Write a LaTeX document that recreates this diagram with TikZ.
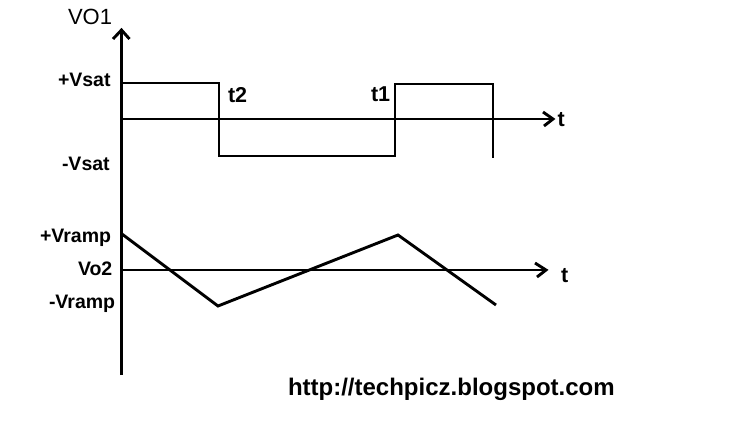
\documentclass[tikz,border=0pt]{standalone}
\usepackage{fontspec}
\setmainfont{Liberation Sans}
\tikzset{
  wire/.style={line width=2.9pt,black,line join=miter,line cap=butt},
  head/.style={line width=2.9pt,black,line join=miter},
  lab/.style={font=\fontsize{19.5pt}{20pt}\selectfont\bfseries,anchor=base west,inner sep=0pt,outer sep=0pt},
  biglab/.style={font=\fontsize{21.5pt}{22pt}\selectfont\bfseries,anchor=base west,inner sep=0pt,outer sep=0pt},
  title/.style={font=\fontsize{22pt}{22pt}\selectfont,anchor=base west,inner sep=0pt,outer sep=0pt},
  link/.style={font=\fontsize{24pt}{24pt}\selectfont\bfseries,anchor=base west,inner sep=0pt,outer sep=0pt}
}
\begin{document}
\begin{tikzpicture}[x=1pt,y=-1pt]
\useasboundingbox (0,0) rectangle (738,423);
% vertical axis
\coordinate (yb) at (121.5,375);
\coordinate (yt) at (121.5,30);
\coordinate (yl) at (113,39);
\coordinate (yr) at (129.5,39);
\draw[wire] (yb) -- (yt);
\draw[head] (yl) -- (yt) -- (yr);
% upper time axis
\coordinate (a0) at (121.5,119);
\coordinate (a1) at (553,119);
\coordinate (a1u) at (543,112);
\coordinate (a1d) at (544,126);
\draw[wire] (a0) -- (a1);
\draw[head] (a1u) -- (a1) -- (a1d);
% lower time axis
\coordinate (b0) at (121.5,270);
\coordinate (b1) at (546,270);
\coordinate (b1u) at (535,263);
\coordinate (b1d) at (537,277);
\draw[wire] (b0) -- (b1);
\draw[head] (b1u) -- (b1) -- (b1d);
% square wave
\coordinate (s0) at (122,83);
\coordinate (s1) at (219,83);
\coordinate (s2) at (219,156);
\coordinate (s3) at (395,156);
\coordinate (s4) at (395,84);
\coordinate (s5) at (493,84);
\coordinate (s6) at (493,158);
\draw[wire] (s0) -- (s1) -- (s2) -- (s3) -- (s4) -- (s5) -- (s6);
% ramp
\coordinate (r0) at (122,234);
\coordinate (r1) at (218,306);
\coordinate (r2) at (398,235);
\coordinate (r3) at (496,305);
\draw[wire] (r0) -- (r1) -- (r2) -- (r3);
% labels
\node[title] (vo1) at (68,24) {VO1};
\node[lab] (vsp) at (58,86) {+Vsat};
\node[lab] (vsm) at (62,170) {-Vsat};
\node[biglab] (t2) at (228,102) {t2};
\node[biglab] (t1) at (371,101) {t1};
\node[biglab] (tu) at (557.5,126) {t};
\node[lab] (vrp) at (40,242) {+Vramp};
\node[lab] (vo2) at (78,275) {Vo2};
\node[lab] (vrm) at (49,308) {-Vramp};
\node[biglab] (tl) at (561,282) {t};
\node[link] (url) at (288,395.5) {http://techpicz.blogspot.com};
\end{tikzpicture}
\end{document}
